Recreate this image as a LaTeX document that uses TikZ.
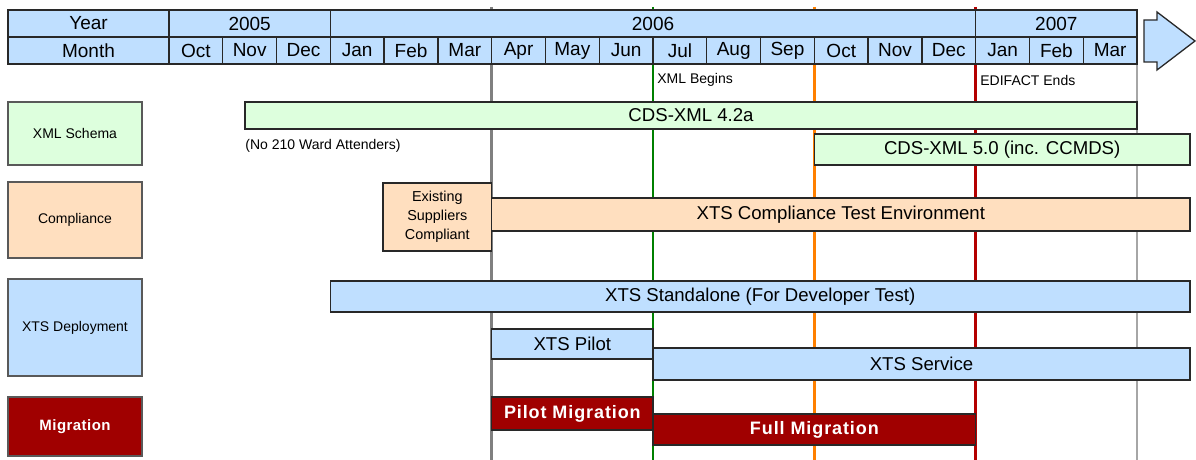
\documentclass[tikz,border=0pt]{standalone}
\usepackage{fontspec}
\setmainfont{Liberation Sans}
\definecolor{hdrblue}{RGB}{191,223,255}
\definecolor{schemagreen}{RGB}{221,255,221}
\definecolor{peach}{RGB}{255,223,191}
\definecolor{migred}{RGB}{160,0,0}
\definecolor{edge}{RGB}{40,40,40}
\definecolor{lngray}{RGB}{128,128,128}
\definecolor{lngreen}{RGB}{0,128,0}
\definecolor{lnorange}{RGB}{255,128,0}
\definecolor{lnred}{RGB}{180,0,0}
\newcommand{\XO}{169}
\newcommand{\MW}{53.78}
\newcommand{\mon}[1]{(\XO+(#1)*\MW)}
\newcommand{\gbar}[7]{\draw[#2] ({#3},{#4}) rectangle ({#5},{#6}) node[midway] (#1) {#7};}

\begin{document}
\begin{tikzpicture}[x=0.5pt, y=-0.5pt,
	hdr/.style={draw=edge, fill=hdrblue, line width=0.65pt, font=\fontsize{9.5}{11}\selectfont},
	barbox/.style={draw=edge, line width=0.65pt, font=\fontsize{9.3}{11}\selectfont},
	lbl/.style={draw=gray!70!black, line width=0.8pt, font=\fontsize{7}{8.4}\selectfont},
	note/.style={font=\fontsize{7}{8.4}\selectfont, anchor=west, inner sep=0pt},
	mig/.style={draw=edge, fill=migred, text=white, line width=0.65pt,
		font=\fontsize{9}{11}\selectfont\bfseries\addfontfeature{LetterSpace=5}}]
	\useasboundingbox (0,0) rectangle (1196,460);
	%	\draw[thin, red] (0,0) rectangle (1196,460);

	% milestone lines
	\draw[line width=1.3pt, lngray] ({\mon{6}},7) -- ({\mon{6}},460);
	\draw[line width=1.3pt, lngreen] ({\mon{9}},7) -- ({\mon{9}},460);
	\draw[line width=1.3pt, lnorange] ({\mon{12}},7) -- ({\mon{12}},460);
	\draw[line width=1.3pt, lnred] ({\mon{15}},7) -- ({\mon{15}},460);
	\draw[line width=0.7pt, gray!70] ({\mon{18}},64) -- ({\mon{18}},460);

	% header
	\draw[hdr] (8,10) rectangle ({\mon{0}},37) node[midway] (yr) {Year};
	\draw[hdr] ({\mon{0}},10) rectangle ({\mon{3}},37) node[midway] (y2005) {2005};
	\draw[hdr] ({\mon{3}},10) rectangle ({\mon{15}},37) node[midway] (y2006) {2006};
	\draw[hdr] ({\mon{15}},10) rectangle ({\mon{18}},37) node[midway] (y2007) {2007};
	\draw[hdr] (8,37) rectangle ({\mon{0}},64) node[midway] (mo) {Month};
	\foreach \m [count=\i from 0] in {Oct,Nov,Dec,Jan,Feb,Mar,Apr,May,Jun,Jul,Aug,Sep,Oct,Nov,Dec,Jan,Feb,Mar}
		\draw[hdr] ({\mon{\i}},37) rectangle ({\mon{\i+1}},64) node[midway] (m\i) {\m};
	\draw[hdr] (1144,20) -- (1157,20) -- (1157,12) -- (1195,41) -- (1157,70) -- (1157,62) -- (1144,62) -- cycle;

	\node[note] (xmlbegin) at (657,80) {XML Begins};
	\node[note] (edifact) at (980,80) {EDIFACT Ends};
	\node[note] (noward) at (245,146) {(No 210 Ward Attenders)};

	% row labels
	\gbar{schema}{lbl, fill=schemagreen}{8}{102}{142}{165}{XML Schema}
	\gbar{compl}{lbl, fill=peach}{8}{182}{142}{258}{Compliance}
	\gbar{deploy}{lbl, fill=hdrblue}{8}{279}{142}{376}{XTS Deployment}
	\gbar{migr}{lbl, fill=migred, text=white, font=\fontsize{7.5}{9}\selectfont\bfseries\addfontfeature{LetterSpace=3}}{8}{397}{142}{456}{Migration}

	% bars
	\gbar{cds42}{barbox, fill=schemagreen}{245}{102}{\mon{18}}{129}{CDS-XML 4.2a}
	\gbar{cds50}{barbox, fill=schemagreen}{\mon{12}}{134}{1190}{165}{CDS-XML 5.0 (inc. CCMDS)}
	\gbar{existing}{barbox, fill=peach, align=center, font=\fontsize{7.2}{9.5}\selectfont}{383}{183}{\mon{6}}{251}{Existing\\Suppliers\\Compliant}
	\gbar{xtsenv}{barbox, fill=peach}{\mon{6}}{198}{1190}{231}{XTS Compliance Test Environment}
	\gbar{standalone}{barbox, fill=hdrblue}{\mon{3}}{281}{1190}{312}{XTS Standalone (For Developer Test)}
	\gbar{pilot}{barbox, fill=hdrblue}{\mon{6}}{329}{\mon{9}}{359}{XTS Pilot}
	\gbar{service}{barbox, fill=hdrblue}{\mon{9}}{348}{1190}{380}{XTS Service}
	\gbar{pilotmig}{mig}{\mon{6}}{397}{\mon{9}}{430}{Pilot Migration}
	\gbar{fullmig}{mig}{\mon{9}}{414}{\mon{15}}{445}{Full Migration}
\end{tikzpicture}
\end{document}
